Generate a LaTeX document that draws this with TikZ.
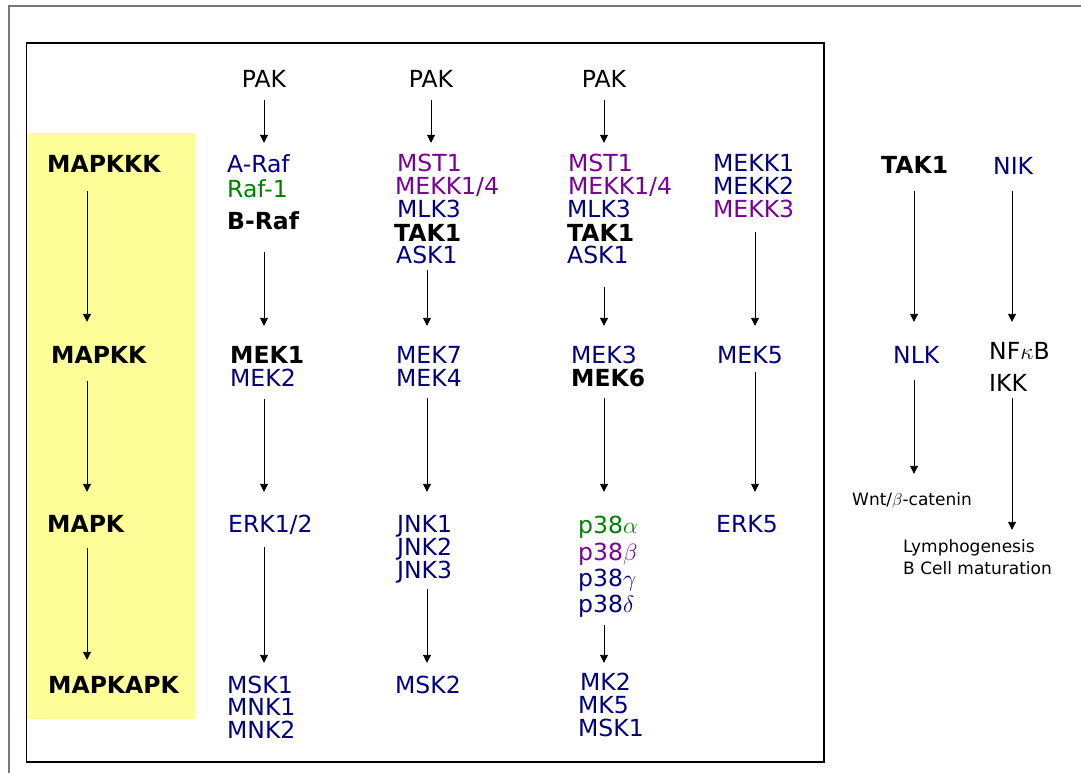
\RequirePackage{fix-cm}
\documentclass[tikz,border=0pt]{standalone}
\usepackage{fontspec}
\setmainfont{DejaVu Sans}
\usetikzlibrary{arrows.meta}
\definecolor{navy}{RGB}{0,0,128}
\definecolor{grn}{RGB}{0,128,0}
\definecolor{purp}{RGB}{120,0,150}
\definecolor{yel}{RGB}{255,255,153}
\definecolor{frame}{RGB}{120,120,120}
\tikzset{
  lbl/.style={inner sep=0pt, anchor=base west, font=\fontsize{23.5}{24}\selectfont, text height=17pt, text depth=0pt},
  bl/.style={lbl, font=\fontsize{23.5}{24}\selectfont\bfseries},
  sm/.style={inner sep=0pt, anchor=base west, font=\fontsize{17}{22}\selectfont, text height=12pt, text depth=0pt},
  nv/.style={text=navy}, gr/.style={text=grn}, pu/.style={text=purp},
  arr/.style={-{Triangle[width=8pt,length=8pt]}, line width=0.9pt}
}
\begin{document}
\begin{tikzpicture}[x=1pt,y=-1pt]
\useasboundingbox (0,0) rectangle (1081,773);
% frames
\draw[frame, line width=2pt] (9,773) -- (9,6) -- (1081,6);
\fill[yel] (27,133) rectangle (196,719);
\draw[line width=1.2pt] (26.5,43) rectangle (824,762);
% column x positions
\coordinate (xL) at (87,0);
\coordinate (xA) at (264,0);
\coordinate (xB) at (427,0);
\coordinate (xC) at (604,0);
\coordinate (xD) at (755,0);
\coordinate (xE) at (914,0);
\coordinate (xF) at (1012,0);
% left labels
\node[bl] (MAPKKK) at (47,172) {MAPKKK};
\node[bl] (MAPKK) at (51,363) {MAPKK};
\node[bl] (MAPK) at (47,532) {MAPK};
\node[bl] (MAPKAPK) at (48,693) {MAPKAPK};
% column 1
\node[lbl, anchor=base] (PAK1) at (264,88) {PAK};
\node[lbl,nv] (ARaf) at (227,172) {A-Raf};
\node[lbl,gr] (Raf1) at (227,197) {Raf-1};
\node[bl] (BRaf) at (227,229) {B-Raf};
\node[bl] (MEK1) at (230,363) {MEK1};
\node[lbl,nv] (MEK2) at (230,386) {MEK2};
\node[lbl,nv] (ERK12) at (228,532) {ERK1/2};
\node[lbl,nv] (MSK1a) at (227,693) {MSK1};
\node[lbl,nv] (MNK1) at (227,715) {MNK1};
\node[lbl,nv] (MNK2) at (227,738) {MNK2};
% column 2
\node[lbl, anchor=base] (PAK2) at (431,88) {PAK};
\node[lbl,pu] (MST1b) at (397,171) {MST1};
\node[lbl,pu] (MEKK14b) at (395,194) {MEKK1/4};
\node[lbl,nv] (MLK3b) at (397,217) {MLK3};
\node[bl] (TAK1b) at (394,241) {TAK1};
\node[lbl,nv] (ASK1b) at (396,263) {ASK1};
\node[lbl,nv] (MEK7) at (396,363) {MEK7};
\node[lbl,nv] (MEK4) at (396,386) {MEK4};
\node[lbl,nv] (JNK1) at (397,532) {JNK1};
\node[lbl,nv] (JNK2) at (397,555) {JNK2};
\node[lbl,nv] (JNK3) at (397,578) {JNK3};
\node[lbl,nv] (MSK2) at (395,693) {MSK2};
% column 3
\node[lbl, anchor=base] (PAK3) at (604,88) {PAK};
\node[lbl,pu] (MST1c) at (568,171) {MST1};
\node[lbl,pu] (MEKK14c) at (568,194) {MEKK1/4};
\node[lbl,nv] (MLK3c) at (567,217) {MLK3};
\node[bl] (TAK1c) at (567,241) {TAK1};
\node[lbl,nv] (ASK1c) at (567,263) {ASK1};
\node[lbl,nv] (MEK3) at (571,363) {MEK3};
\node[bl] (MEK6) at (571,386) {MEK6};
\node[lbl,gr] (p38a) at (578,533) {p38$\alpha$};
\node[lbl,pu] (p38b) at (578,560) {p38$\beta$};
\node[lbl,nv] (p38g) at (578,586) {p38$\gamma$};
\node[lbl,nv] (p38d) at (578,612) {p38$\delta$};
\node[lbl,nv] (MK2) at (580,690) {MK2};
\node[lbl,nv] (MK5) at (578,713) {MK5};
\node[lbl,nv] (MSK1c) at (578,736) {MSK1};
% column 4
\node[lbl,nv] (MEKK1d) at (713,171) {MEKK1};
\node[lbl,nv] (MEKK2d) at (713,194) {MEKK2};
\node[lbl,pu] (MEKK3d) at (713,217) {MEKK3};
\node[lbl,nv] (MEK5) at (717,363) {MEK5};
\node[lbl,nv] (ERK5) at (716,532) {ERK5};
% right side
\node[bl] (TAK1e) at (881,173) {TAK1};
\node[lbl,nv] (NIK) at (993,174) {NIK};
\node[lbl,nv] (NLK) at (893,363) {NLK};
\node[lbl] (NFkB) at (989,359) {NF$\kappa$B};
\node[lbl] (IKK) at (989,391) {IKK};
\node[sm] (Wnt) at (852,505) {Wnt/$\beta$-catenin};
\node[sm] (Lymph) at (903,552) {Lymphogenesis};
\node[sm] (BCell) at (903,574) {B Cell maturation};
% arrows: left column
\draw[arr, shorten <=19pt, shorten >=24pt] (MAPKKK.south -| xL) -- (MAPKK.north -| xL);
\draw[arr, shorten <=18pt, shorten >=23pt] (MAPKK.south -| xL) -- (MAPK.north -| xL);
\draw[arr, shorten <=16pt, shorten >=16pt] (MAPK.south -| xL) -- (MAPKAPK.north -| xL);
% column 1
\draw[arr, shorten <=12pt, shorten >=12pt] (PAK1.south -| xA) -- (ARaf.north -| xA);
\draw[arr, shorten <=23pt, shorten >=20pt] (BRaf.south -| xA) -- (MEK1.north -| xA);
\draw[arr, shorten <=13pt, shorten >=23pt] (MEK2.south -| xA) -- (ERK12.north -| xA);
\draw[arr, shorten <=15pt, shorten >=13pt] (ERK12.south -| xA) -- (MSK1a.north -| xA);
% column 2
\draw[arr, shorten <=12pt, shorten >=11pt] (PAK2.south) -- (PAK2.south |- MST1b.north);
\draw[arr, shorten <=7pt, shorten >=20pt] (ASK1b.south -| xB) -- (MEK7.north -| xB);
\draw[arr, shorten <=12pt, shorten >=23pt] (MEK4.south -| xB) -- (JNK1.north -| xB);
\draw[arr, shorten <=11pt, shorten >=13pt] (JNK3.south -| xB) -- (MSK2.north -| xB);
% column 3
\draw[arr, shorten <=12pt, shorten >=11pt] (PAK3.south -| xC) -- (MST1c.north -| xC);
\draw[arr, shorten <=24pt, shorten >=20pt] (ASK1c.south -| xC) -- (MEK3.north -| xC);
\draw[arr, shorten <=12pt, shorten >=24pt] (MEK6.south -| xC) -- (p38a.north -| xC);
\draw[arr, shorten <=13pt, shorten >=10pt] (p38d.south -| xC) -- (MK2.north -| xC);
% column 4
\draw[arr, shorten <=15pt, shorten >=20pt] (MEKK3d.south -| xD) -- (MEK5.north -| xD);
\draw[arr, shorten <=9pt, shorten >=23pt] (MEK5.south -| xD) -- (ERK5.north -| xD);
% right
\draw[arr, shorten <=18pt, shorten >=24pt] (TAK1e.south -| xE) -- (NLK.north -| xE);
\draw[arr, shorten <=17pt, shorten >=19pt] (NLK.south -| xE) -- (Wnt.north -| xE);
\draw[arr, shorten <=17pt, shorten >=20pt] (NIK.south -| xF) -- (NFkB.north -| xF);
\draw[arr, shorten <=7pt, shorten >=10pt] (IKK.south -| xF) -- (Lymph.north -| xF);
\end{tikzpicture}
\end{document}
